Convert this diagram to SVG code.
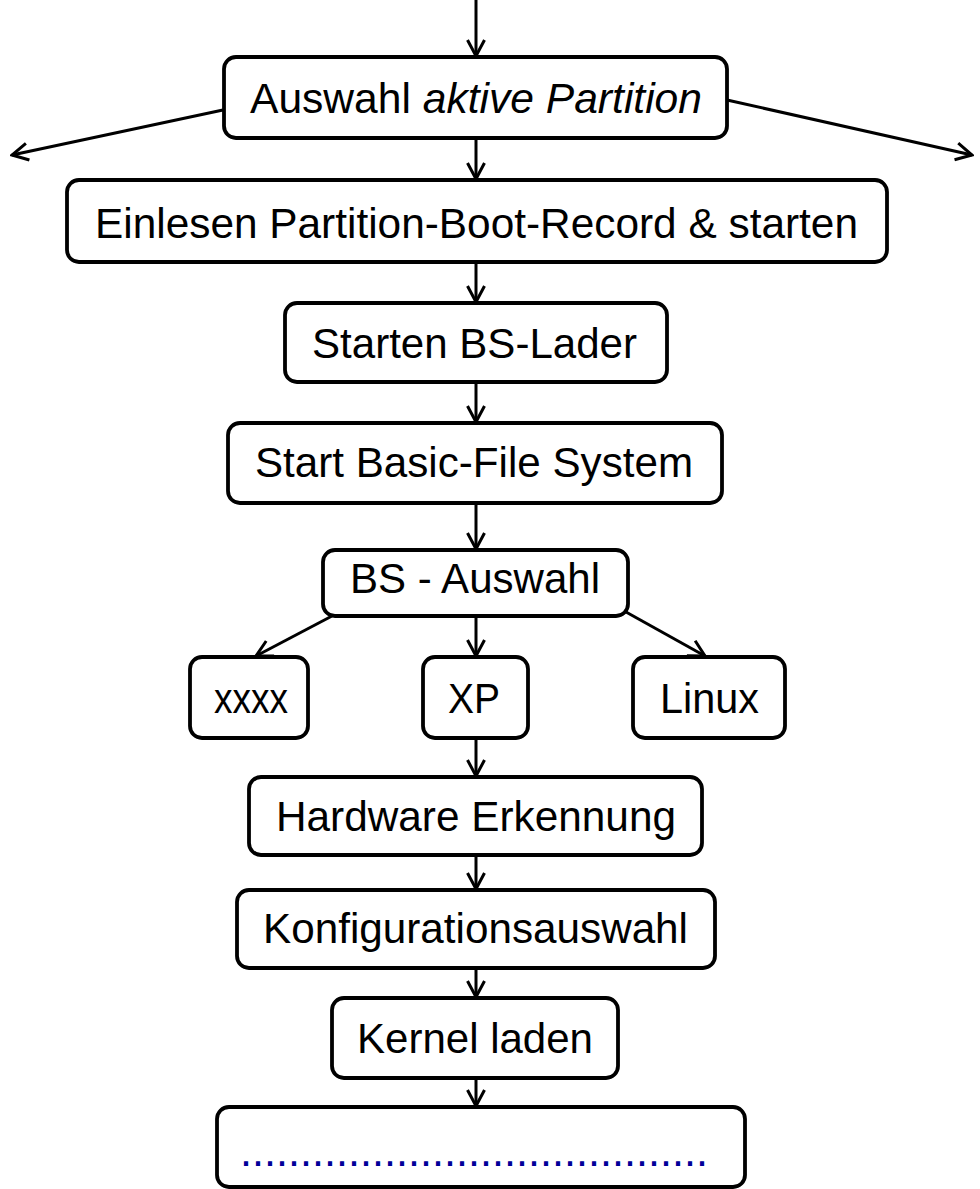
<svg xmlns="http://www.w3.org/2000/svg" width="980" height="1189" viewBox="0 0 980 1189">
<defs>
<marker id="arr" viewBox="0 0 20 20" refX="18" refY="10" markerWidth="20" markerHeight="20" markerUnits="userSpaceOnUse" orient="auto">
<path d="M2,1.5 L18,10 L2,18.5" fill="none" stroke="#000" stroke-width="3"/>
</marker>
<style>
.box{fill:#fff;stroke:#000;stroke-width:3.8}
.t{font-family:"Liberation Sans",Arial,sans-serif;font-size:43px;fill:#000}
.dots{font-family:"Liberation Sans",Arial,sans-serif;font-size:44px;fill:#000099}
.c{fill:none;stroke:#000;stroke-width:3;marker-end:url(#arr)}
</style>
</defs>
<g id="connectors">
<line class="c" x1="476" y1="0" x2="476" y2="56"/>
<line class="c" x1="223" y1="110" x2="12" y2="155"/>
<line class="c" x1="727" y1="100" x2="972" y2="155"/>
<line class="c" x1="476" y1="138" x2="476" y2="179"/>
<line class="c" x1="476" y1="262" x2="476" y2="302"/>
<line class="c" x1="476" y1="382" x2="476" y2="422"/>
<line class="c" x1="476" y1="503" x2="476" y2="549"/>
<line class="c" x1="332" y1="616" x2="256" y2="656"/>
<line class="c" x1="476" y1="616" x2="476" y2="656"/>
<line class="c" x1="626" y1="612" x2="705" y2="656"/>
<line class="c" x1="476" y1="738" x2="476" y2="776"/>
<line class="c" x1="476" y1="855" x2="476" y2="889"/>
<line class="c" x1="476" y1="968" x2="476" y2="997"/>
<line class="c" x1="476" y1="1078" x2="476" y2="1106"/>
</g>
<g id="n1"><rect class="box" x="224" y="57" width="503" height="81" rx="12"/>
<text class="t" x="250" y="113" textLength="452" lengthAdjust="spacingAndGlyphs">Auswahl <tspan font-style="italic">aktive Partition</tspan></text></g>
<g id="n2"><rect class="box" x="67" y="180" width="820" height="82" rx="12"/>
<text class="t" x="95" y="238" textLength="763" lengthAdjust="spacingAndGlyphs">Einlesen Partition-Boot-Record &amp; starten</text></g>
<g id="n3"><rect class="box" x="285" y="303" width="382" height="79" rx="12"/>
<text class="t" x="312" y="358" textLength="325" lengthAdjust="spacingAndGlyphs">Starten BS-Lader</text></g>
<g id="n4"><rect class="box" x="228" y="423" width="494" height="80" rx="12"/>
<text class="t" x="255" y="477" textLength="438" lengthAdjust="spacingAndGlyphs">Start Basic-File System</text></g>
<g id="n5"><rect class="box" x="323" y="550" width="305" height="66" rx="12"/>
<text class="t" x="350" y="593" textLength="250" lengthAdjust="spacingAndGlyphs">BS - Auswahl</text></g>
<g id="n6"><rect class="box" x="190" y="657" width="118" height="81" rx="12"/>
<text class="t" x="214" y="713" textLength="74" lengthAdjust="spacingAndGlyphs">xxxx</text></g>
<g id="n7"><rect class="box" x="423" y="657" width="105" height="81" rx="12"/>
<text class="t" x="448" y="713" textLength="52" lengthAdjust="spacingAndGlyphs">XP</text></g>
<g id="n8"><rect class="box" x="633" y="657" width="152" height="81" rx="12"/>
<text class="t" x="660" y="713" textLength="99" lengthAdjust="spacingAndGlyphs">Linux</text></g>
<g id="n9"><rect class="box" x="249" y="777" width="453" height="78" rx="12"/>
<text class="t" x="276" y="831" textLength="400" lengthAdjust="spacingAndGlyphs">Hardware Erkennung</text></g>
<g id="n10"><rect class="box" x="237" y="890" width="478" height="78" rx="12"/>
<text class="t" x="263" y="943" textLength="425" lengthAdjust="spacingAndGlyphs">Konfigurationsauswahl</text></g>
<g id="n11"><rect class="box" x="332" y="998" width="286" height="80" rx="12"/>
<text class="t" x="357" y="1053" textLength="236" lengthAdjust="spacingAndGlyphs">Kernel laden</text></g>
<g id="n12"><rect class="box" x="217" y="1107" width="528" height="80" rx="12"/>
<text class="dots" x="240" y="1166" textLength="468" lengthAdjust="spacingAndGlyphs">.......................................</text></g>
</svg>
